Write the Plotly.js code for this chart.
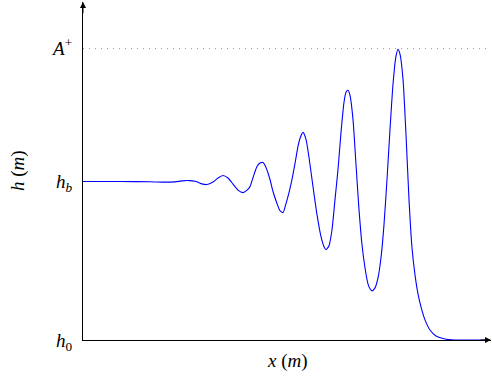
<!DOCTYPE html>
<html>
<head>
<meta charset="utf-8">
<script src="https://cdn.plot.ly/plotly-3.0.1.min.js"></script>
<style>html,body{margin:0;padding:0;background:#fff;}#chart{width:492px;height:379px;}</style>
</head>
<body>
<div id="chart"></div>
<script>
// Position along the channel (m)
var xPos = [0, 37, 67, 82, 92, 99, 106, 113, 118, 124, 130, 135, 140, 145, 150, 155, 160, 164, 167, 171,
  174, 177, 180, 183, 187, 190, 194, 197, 200, 203, 206, 209, 212, 215, 217, 220, 223, 226, 230, 234,
  238, 241, 243, 246, 249, 252, 255, 258, 261, 263, 265, 267, 270, 273, 276, 279, 282, 285, 287, 289,
  292, 295, 298, 301, 304, 307, 310, 313, 315, 317, 320, 323, 326, 329, 332, 335, 338, 342, 347, 353,
  362, 372, 407];
// Water height (relative: h0 = 0, hb = 1)
var hVal = [1.000, 1.000, 0.999, 0.996, 0.998, 1.004, 1.006, 1.000, 0.987, 0.981, 0.997, 1.022, 1.038, 1.022, 0.984, 0.946, 0.930, 0.946, 0.968, 1.044,
  1.095, 1.117, 1.120, 1.089, 1.013, 0.937, 0.861, 0.816, 0.804, 0.861, 0.930, 1.013, 1.114, 1.222, 1.272, 1.310, 1.266, 1.152, 0.968, 0.791,
  0.652, 0.589, 0.570, 0.595, 0.696, 0.886, 1.076, 1.310, 1.500, 1.563, 1.576, 1.544, 1.392, 1.108, 0.823, 0.601, 0.456, 0.354, 0.323, 0.310,
  0.329, 0.392, 0.519, 0.728, 1.013, 1.329, 1.614, 1.791, 1.835, 1.804, 1.646, 1.297, 0.886, 0.582, 0.411, 0.291, 0.209, 0.127, 0.063, 0.025,
  0.006, 0.000, 0.000];
// Reference levels and tick labels
var levelVals = [0, 1, 1.839];
var levelText = ['<i>h</i><sub>0</sub>', '<i>h<sub>b</sub></i>', '<i>A</i><sup>+</sup>'];
var aPlus = 1.839;
var xMax = 408;
var yMax = 2.133;

var trace = {
  x: xPos, y: hVal, type: 'scatter', mode: 'lines',
  line: {color: '#0000ff', width: 1.1, shape: 'spline', smoothing: 0.6},
  hoverinfo: 'skip'
};

var font = {family: 'Liberation Serif, DejaVu Serif, serif', size: 19, color: '#000'};

var layout = {
  width: 492, height: 379,
  margin: {l: 83, r: 1, t: 2, b: 39, pad: 0},
  paper_bgcolor: '#fff', plot_bgcolor: '#fff',
  showlegend: false,
  font: font,
  xaxis: {range: [0, xMax], showline: true, linecolor: '#000', linewidth: 1,
    showgrid: false, zeroline: false, showticklabels: false, ticks: ''},
  yaxis: {range: [0, yMax], showline: true, linecolor: '#000', linewidth: 1,
    showgrid: false, zeroline: false, tickmode: 'array', tickvals: levelVals, ticktext: levelText,
    ticks: '', ticklabelstandoff: 6, tickfont: font},
  shapes: [{type: 'line', xref: 'x', yref: 'y', x0: 0, x1: 405, y0: aPlus, y1: aPlus,
    line: {color: '#999', width: 1, dash: '1px,5px'}}],
  annotations: [
    {xref: 'x', yref: 'y', x: xMax, y: 0, axref: 'x', ayref: 'y', ax: xMax - 12, ay: 0,
     text: '', showarrow: true, arrowhead: 2, arrowsize: 1.2, arrowwidth: 1, arrowcolor: '#000', standoff: 0, startstandoff: 0},
    {xref: 'x', yref: 'y', x: 0, y: yMax, axref: 'x', ayref: 'y', ax: 0, ay: yMax - 0.08,
     text: '', showarrow: true, arrowhead: 2, arrowsize: 1.2, arrowwidth: 1, arrowcolor: '#000', standoff: 0, startstandoff: 0},
    {xref: 'paper', yref: 'paper', x: 0.5, y: 0, yanchor: 'top', yshift: -8,
     text: '<i>x</i> (<i>m</i>)', showarrow: false, font: font},
    {xref: 'paper', yref: 'paper', x: 0, y: 0.5, xanchor: 'center', yanchor: 'middle', xshift: -65,
     text: '<i>h</i> (<i>m</i>)', textangle: -90, showarrow: false, font: font}
  ]
};

Plotly.newPlot('chart', [trace], layout, {staticPlot: true, displayModeBar: false});
</script>
</body>
</html>
